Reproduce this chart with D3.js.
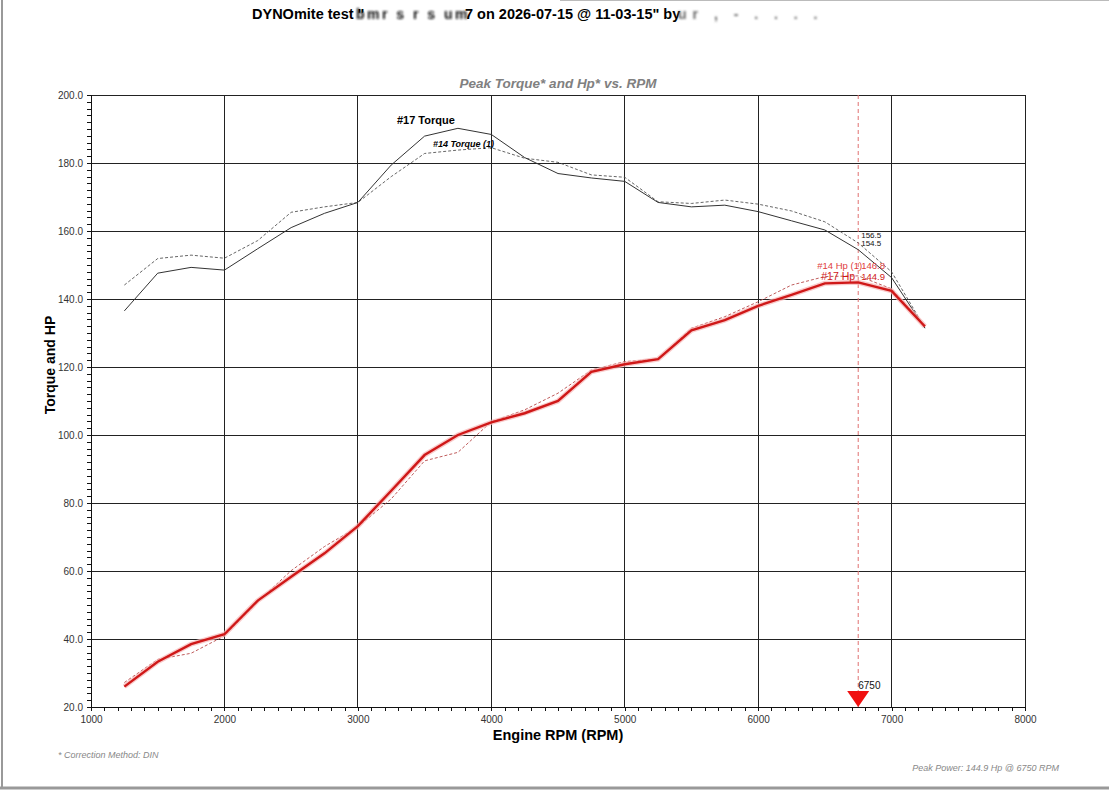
<!DOCTYPE html>
<html>
<head>
<meta charset="utf-8">
<script src="https://cdn.jsdelivr.net/npm/d3@7"></script>
<style>
  html, body { margin: 0; padding: 0; background: #fff; }
  svg { display: block; font-family: "Liberation Sans", Arial, sans-serif; }
</style>
</head>
<body>
<div id="chart"></div>
<script>
// --- Dyno run data ---
const rpm = [1250, 1500, 1750, 2000, 2250, 2500, 2750, 3000, 3250, 3500, 3750, 4000, 4250,
             4500, 4750, 5000, 5250, 5500, 5750, 6000, 6250, 6500, 6750, 7000, 7250];
const torque17 = [136.5, 147.6, 149.3, 148.5, 154.8, 161.0, 165.2, 168.4, 179.4, 187.9, 190.2, 188.4, 181.6,
                  176.9, 175.6, 174.6, 168.4, 167.1, 167.6, 165.7, 163.0, 160.3, 154.5, 146.3, 131.4];
const torque14 = [144.1, 151.9, 152.9, 152.0, 157.2, 165.5, 167.1, 168.4, 176.0, 182.8, 183.8, 184.5, 181.4,
                  180.2, 176.5, 175.8, 168.6, 168.1, 169.1, 167.9, 165.9, 162.7, 156.5, 148.0, 131.5];
const hp17 = [26.0, 33.3, 38.5, 41.4, 51.3, 58.3, 65.2, 73.2, 83.6, 94.1, 100.0, 103.7, 106.4,
              110.0, 118.6, 120.8, 122.3, 130.8, 133.8, 138.0, 141.2, 144.6, 144.9, 142.4, 131.9];
const hp14 = [27.2, 34.0, 35.8, 40.9, 51.0, 60.1, 67.2, 73.0, 81.2, 92.4, 94.9, 103.9, 107.4,
              112.3, 119.1, 121.6, 122.3, 131.4, 134.8, 139.2, 144.1, 146.6, 146.8, 143.0, 132.2];
const xTicks = [1000, 2000, 3000, 4000, 5000, 6000, 7000, 8000];
const yTicks = [20, 40, 60, 80, 100, 120, 140, 160, 180, 200];
const peakRpm = 6750;
const peakHp = 144.9;

const W = 1109, H = 791;
const m = { left: 91, top: 95, right: 1025, bottom: 707 };

const svg = d3.select('#chart').append('svg').attr('width', W).attr('height', H);

const defs = svg.append('defs');
defs.append('filter').attr('id', 'blur').attr('x', '-10%').attr('width', '120%')
    .append('feGaussianBlur').attr('stdDeviation', 1.2);

// page frame
svg.append('line').attr('x1', 2).attr('x2', 2).attr('y1', 0).attr('y2', 788).attr('stroke', '#999').attr('stroke-width', 2);
svg.append('line').attr('x1', 0).attr('x2', W).attr('y1', 788).attr('y2', 788).attr('stroke', '#999').attr('stroke-width', 3);
svg.append('line').attr('x1', 560).attr('x2', W).attr('y1', 0.5).attr('y2', 0.5).attr('stroke', '#bbb').attr('stroke-width', 1);

const x = d3.scaleLinear().domain([1000, 8000]).range([m.left, m.right]);
const y = d3.scaleLinear().domain([20, 200]).range([m.bottom, m.top]);

// --- titles (names blurred as on the printout) ---
svg.append('text').attr('x', 252).attr('y', 19).attr('font-size', 14.5).attr('font-weight', 'bold')
    .attr('fill', '#000').text('DYNOmite test "');
svg.append('text').attr('x', 356).attr('y', 19).attr('font-size', 14).attr('font-weight', 'bold')
    .attr('fill', '#111').attr('filter', 'url(#blur)').attr('letter-spacing', 2.5).text('bmr s  r  s  um');
svg.append('text').attr('x', 465).attr('y', 19).attr('font-size', 14.5).attr('font-weight', 'bold')
    .attr('fill', '#000').text('7 on 2026-07-15 @ 11-03-15" by');
svg.append('text').attr('x', 678).attr('y', 19).attr('font-size', 14).attr('font-weight', 'bold')
    .attr('fill', '#666').attr('filter', 'url(#blur)').attr('letter-spacing', 6).text('ur ,  -  .  .  .  .');

svg.append('text').attr('x', 558).attr('y', 88).attr('text-anchor', 'middle')
    .attr('font-size', 13.5).attr('font-style', 'italic').attr('font-weight', 'bold').attr('fill', '#808080')
    .text('Peak Torque* and Hp* vs. RPM');

// --- grid ---
const grid = svg.append('g').attr('stroke', '#222').attr('stroke-width', 1).attr('shape-rendering', 'crispEdges');
grid.selectAll('.gx').data(xTicks).join('line')
    .attr('x1', d => x(d)).attr('x2', d => x(d)).attr('y1', m.top).attr('y2', m.bottom);
grid.selectAll('.gy').data(yTicks).join('line')
    .attr('x1', m.left).attr('x2', m.right).attr('y1', d => y(d)).attr('y2', d => y(d));

// --- axes ---
const xAxis = d3.axisBottom(x).tickValues(d3.range(1000, 8001, 100)).tickSize(4).tickFormat(d => xTicks.includes(d) ? d : '');
const gx = svg.append('g').attr('transform', `translate(0,${m.bottom})`).call(xAxis);
const yAxis = d3.axisLeft(y).tickValues(d3.range(20, 200.1, 2)).tickSize(4).tickFormat(d => yTicks.includes(d) ? d.toFixed(1) : '');
const gy = svg.append('g').attr('transform', `translate(${m.left},0)`).call(yAxis);
[gx, gy].forEach(g => {
    g.select('.domain').attr('stroke', '#111').attr('shape-rendering', 'crispEdges');
    g.selectAll('.tick line').attr('stroke', '#111').attr('shape-rendering', 'crispEdges');
    g.selectAll('.tick text').attr('font-family', '"Liberation Sans", Arial, sans-serif')
        .attr('font-size', 10).attr('fill', '#333');
});
gx.selectAll('.tick text').attr('dy', '0.9em');
gy.selectAll('.tick text').attr('dx', '-1px');

svg.append('text').attr('x', 558).attr('y', 740).attr('text-anchor', 'middle')
    .attr('font-size', 14.5).attr('font-weight', 'bold').text('Engine RPM (RPM)');
svg.append('text').attr('transform', 'translate(55,365) rotate(-90)').attr('text-anchor', 'middle')
    .attr('font-size', 14).attr('font-weight', 'bold').text('Torque and HP');

// --- peak marker line ---
svg.append('line').attr('x1', x(peakRpm)).attr('x2', x(peakRpm)).attr('y1', m.top).attr('y2', m.bottom)
    .attr('stroke', '#e07070').attr('stroke-width', 1).attr('stroke-dasharray', '4,3');

// --- curves ---
const pts = vals => rpm.map((r, i) => [r, vals[i]]);
const line = d3.line().x(d => x(d[0])).y(d => y(d[1]));
const curves = svg.append('g').attr('fill', 'none');

curves.append('path').attr('d', line(pts(torque14))).attr('stroke', '#555').attr('stroke-width', 0.9).attr('stroke-dasharray', '3,2');
curves.append('path').attr('d', line(pts(torque17))).attr('stroke', '#333').attr('stroke-width', 1);
curves.append('path').attr('d', line(pts(hp14))).attr('stroke', '#b84a4a').attr('stroke-width', 0.9).attr('stroke-dasharray', '3,2');
curves.append('path').attr('d', line(pts(hp17))).attr('stroke', '#f6b4b4').attr('stroke-width', 5).attr('stroke-opacity', 0.7);
curves.append('path').attr('d', line(pts(hp17))).attr('stroke', '#cf1818').attr('stroke-width', 2.4);

// --- curve labels ---
const peakIdx = rpm.indexOf(3750);
svg.append('text').attr('x', x(3750) - 61).attr('y', y(torque17[peakIdx]) - 4)
    .attr('font-size', 11).attr('font-weight', 'bold').text('#17 Torque');
svg.append('text').attr('x', x(3750) - 25).attr('y', y(torque14[peakIdx]) - 3)
    .attr('font-size', 9).attr('font-weight', 'bold').attr('font-style', 'italic').text('#14 Torque (1)');

const pi = rpm.indexOf(peakRpm);
const lx = x(peakRpm) + 3;
svg.append('text').attr('x', lx).attr('y', y(torque14[pi]) - 5).attr('font-size', 8).attr('fill', '#111').text(torque14[pi].toFixed(1));
svg.append('text').attr('x', lx).attr('y', y(torque17[pi]) - 4).attr('font-size', 8).attr('fill', '#111').text(torque17[pi].toFixed(1));
svg.append('text').attr('x', x(peakRpm) - 41).attr('y', y(hp14[pi]) - 7).attr('font-size', 9.5).attr('fill', '#e04040').text('#14 Hp (1)');
svg.append('text').attr('x', x(peakRpm) - 37).attr('y', y(hp17[pi]) - 2).attr('font-size', 10.5).attr('fill', '#d01818').text('#17 Hp');
svg.append('text').attr('x', lx).attr('y', y(hp14[pi]) - 7).attr('font-size', 9.5).attr('fill', '#e04040').text(hp14[pi].toFixed(1));
svg.append('text').attr('x', lx).attr('y', y(hp17[pi]) - 2).attr('font-size', 9.5).attr('fill', '#d01818').text(hp17[pi].toFixed(1));

// --- peak triangle ---
const tx = x(peakRpm);
svg.append('path').attr('d', `M${tx - 11},${m.bottom - 16}L${tx + 11},${m.bottom - 16}L${tx},${m.bottom}Z`).attr('fill', '#f01010');
svg.append('text').attr('x', tx).attr('y', m.bottom - 18).attr('font-size', 10).attr('fill', '#111').text(peakRpm);

// --- footers ---
svg.append('text').attr('x', 58).attr('y', 758).attr('font-size', 9).attr('font-style', 'italic')
    .attr('fill', '#888').text('* Correction Method: DIN');
svg.append('text').attr('x', 1059).attr('y', 771).attr('text-anchor', 'end').attr('font-size', 9).attr('font-style', 'italic')
    .attr('fill', '#888').text(`Peak Power: ${peakHp} Hp @ ${peakRpm} RPM`);
</script>
</body>
</html>
